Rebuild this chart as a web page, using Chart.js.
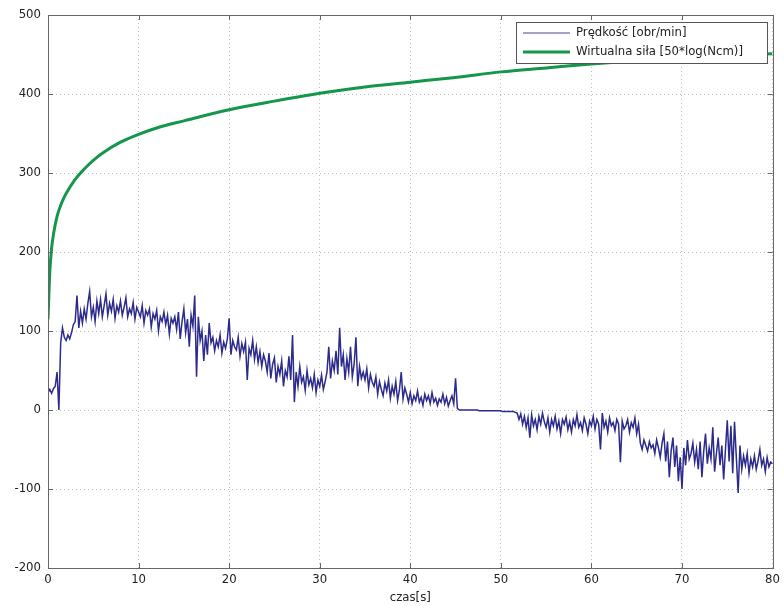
<!DOCTYPE html>
<html>
<head>
<meta charset="utf-8">
<script src="https://cdn.jsdelivr.net/npm/chart.js@4"></script>
<style>
  html, body { margin: 0; padding: 0; background: #fff; }
  #wrap { width: 784px; height: 606px; }
</style>
</head>
<body>
<div id="wrap"><canvas id="chart" width="784" height="606"></canvas></div>
<script>
// ----------------------------
// DATA
// ----------------------------
const speedLabel = "Prędkość [obr/min]";
const forceLabel = "Wirtualna siła [50*log(Ncm)]";

// speed sampled every 0.2 s, from 0 to 80 s
const speedStep = 0.2;
const speedValues = [
    22, 26, 21, 27, 30,   48, 0, 85, 104, 92,   88, 95, 90, 98, 108,   112, 145, 104, 125, 110,
    128, 115, 135, 150, 118,   130, 112, 138, 122, 140,   118, 132, 147, 120, 135,   125, 140, 116, 132, 124,
    138, 120, 130, 142, 118,   128, 122, 136, 115, 130,   124, 118, 132, 110, 126,   120, 128, 105, 122, 115,
    126, 100, 118, 112, 124,   108, 120, 96, 116, 110,   118, 102, 124, 90, 112,   128, 98, 115, 80, 120,
    106, 145, 42, 118, 88,   100, 62, 95, 70, 110,   85, 92, 75, 88, 80,   95, 72, 86, 78, 90,
    116, 70, 88, 80, 76,   92, 68, 84, 74, 86,   38, 78, 70, 88, 64,   80, 60, 74, 55, 70,
    62, 48, 72, 40, 58,   66, 35, 55, 45, 62,   30, 50, 42, 68, 38,   95, 10, 48, 30, 55,
    35, 42, 25, 50, 32,   40, 28, 45, 22, 38,   30, 44, 26, 36, 48,   80, 40, 62, 50, 75,
    45, 104, 55, 70, 38,   65, 48, 80, 42, 58,   92, 30, 55, 40, 48,   38, 52, 28, 45, 35,
    30, 42, 20, 36, 26,   18, 34, 24, 38, 15,   30, 20, 36, 12, 25,   48, 14, 28, 20, 10,
    22, 8, 18, 12, 24,   10, 16, 6, 20, 12,   18, 8, 22, 10, 15,   6, 14, 10, 20, 8,
    16, 5, 12, 18, 8,   40, 2, 0, 0, 0,   0, 0, 0, 0, 0,   0, 0, 0, -1, -1,
    -1, -1, -1, -1, -1,   -1, -1, -1, -1, -1,   -1, -2, -2, -2, -2,   -2, -2, -2, -3, -4,
    -12, -5, -18, -8, -22,   -10, -35, -6, -20, -12,   -25, -8, -18, -4, -15,   -22, -10, -28, -12, -20,
    -8, -24, -14, -30, -12,   -18, -9, -25, -15, -28,   -12, -20, -6, -22, -16,   -26, -10, -18, -30, -14,
    -20, -8, -24, -12, -18,   -50, -4, -22, -14, -28,   -10, -20, -16, -26, -12,   -18, -66, -14, -24, -20,
    -12, -28, -16, -22, -10,   -30, -18, -42, -50, -38,   -45, -52, -40, -48, -44,   -55, -38, -48, -60, -42,
    -30, -65, -40, -85, -52,   -35, -72, -45, -90, -60,   -100, -48, -70, -38, -62,   -55, -42, -66, -50, -75,
    -40, -85, -52, -30, -68,   -48, -62, -22, -78, -55,   -35, -70, -45, -88, -50,   -13, -65, -20, -80, -15,
    -60, -105, -45, -75, -58,   -70, -55, -80, -62, -72,   -58, -75, -64, -50, -70,   -62, -78, -60, -72, -66,
    -68
];

const forceTimes  = [0, 0.2, 0.4, 0.6, 1, 1.5, 2, 3, 4, 5, 6, 8, 10, 12, 15, 20, 25, 30, 35, 40, 45, 50, 55, 60, 65, 70, 75, 80];
const forceValues = [115, 175, 205, 222, 245, 262, 274, 292, 305, 316, 325, 339, 349, 357, 366, 380, 391, 401, 409, 415, 421, 428, 433, 438, 442, 446, 449, 451];

const xTicks = [0, 10, 20, 30, 40, 50, 60, 70, 80];
const yTicks = [-200, -100, 0, 100, 200, 300, 400, 500];

const speedColor = "#2c2b8c";
const forceColor = "#14964c";
const fontFamily = '"Liberation Sans Narrow", "DejaVu Sans Condensed", "Liberation Sans", sans-serif';

const speedData = speedValues.map((v, i) => ({ x: +(i * speedStep).toFixed(2), y: v }));
const forceData = forceValues.map((v, i) => ({ x: forceTimes[i], y: v }));

// ----------------------------
// BOX, INNER TICKS, LEGEND
// ----------------------------
const framePlugin = {
    id: "frame",
    afterDatasetsDraw(chart) {
        const c = chart.ctx;
        const a = chart.chartArea;
        const xs = chart.scales.x;
        const ys = chart.scales.y;
        const len = 5;
        c.save();
        c.strokeStyle = "#666";
        c.lineWidth = 1;
        c.beginPath();
        xTicks.forEach(t => {
            const px = Math.round(xs.getPixelForValue(t)) + 0.5;
            c.moveTo(px, a.bottom); c.lineTo(px, a.bottom - len);
            c.moveTo(px, a.top); c.lineTo(px, a.top + len);
        });
        yTicks.forEach(t => {
            const py = Math.round(ys.getPixelForValue(t)) + 0.5;
            c.moveTo(a.left, py); c.lineTo(a.left + len, py);
            c.moveTo(a.right, py); c.lineTo(a.right - len, py);
        });
        c.stroke();
        c.strokeRect(Math.round(a.left) + 0.5, Math.round(a.top) + 0.5,
                     Math.round(a.right - a.left), Math.round(a.bottom - a.top));

        // legend box
        const lx = 516, ly = 22, lw = 251, lh = 41;
        c.fillStyle = "#fff";
        c.fillRect(lx, ly, lw, lh);
        c.strokeStyle = "#555";
        c.strokeRect(lx + 0.5, ly + 0.5, lw, lh);
        const items = [
            { label: speedLabel, color: "#8583b8", width: 1.5, y: ly + 11 },
            { label: forceLabel, color: forceColor, width: 3, y: ly + 30 }
        ];
        c.font = "13px " + fontFamily;
        c.textBaseline = "middle";
        items.forEach(it => {
            c.strokeStyle = it.color;
            c.lineWidth = it.width;
            c.beginPath();
            c.moveTo(lx + 7, it.y); c.lineTo(lx + 54, it.y);
            c.stroke();
            c.fillStyle = "#222";
            c.fillText(it.label, lx + 60, it.y);
        });
        c.restore();
    }
};

// ----------------------------
// CHART
// ----------------------------
const ctx = document.getElementById("chart").getContext("2d");

new Chart(ctx, {
    type: "line",
    data: {
        datasets: [
            {
                label: forceLabel,
                data: forceData,
                borderColor: forceColor,
                borderWidth: 3,
                pointRadius: 0,
                tension: 0.3,
                cubicInterpolationMode: "monotone"
            },
            {
                label: speedLabel,
                data: speedData,
                borderColor: speedColor,
                borderWidth: 1.5,
                pointRadius: 0,
                tension: 0
            }
        ]
    },
    options: {
        responsive: false,
        animation: false,
        layout: { padding: { top: 15, right: 9, left: 0, bottom: 0 } },
        plugins: {
            legend: { display: false },
            tooltip: { enabled: false }
        },
        scales: {
            x: {
                type: "linear",
                min: 0,
                max: 80,
                afterBuildTicks: s => { s.ticks = xTicks.map(v => ({ value: v })); },
                afterFit: s => { s.height = 38; },
                grid: { color: "#bdbdbd", drawTicks: false, lineWidth: 1 },
                border: { display: false, dash: [1, 3] },
                ticks: { color: "#222", padding: 4, maxRotation: 0, font: { family: fontFamily, size: 13 } },
                title: {
                    display: true,
                    text: "czas[s]",
                    color: "#222",
                    padding: { top: 0, bottom: 1 },
                    font: { family: fontFamily, size: 13 }
                }
            },
            y: {
                type: "linear",
                min: -200,
                max: 500,
                afterBuildTicks: s => { s.ticks = yTicks.map(v => ({ value: v })); },
                afterFit: s => { s.width = 48; },
                grid: { color: "#bdbdbd", drawTicks: false, lineWidth: 1 },
                border: { display: false, dash: [1, 3] },
                ticks: { color: "#222", padding: 7, font: { family: fontFamily, size: 13 } }
            }
        }
    },
    plugins: [framePlugin]
});
</script>
</body>
</html>
